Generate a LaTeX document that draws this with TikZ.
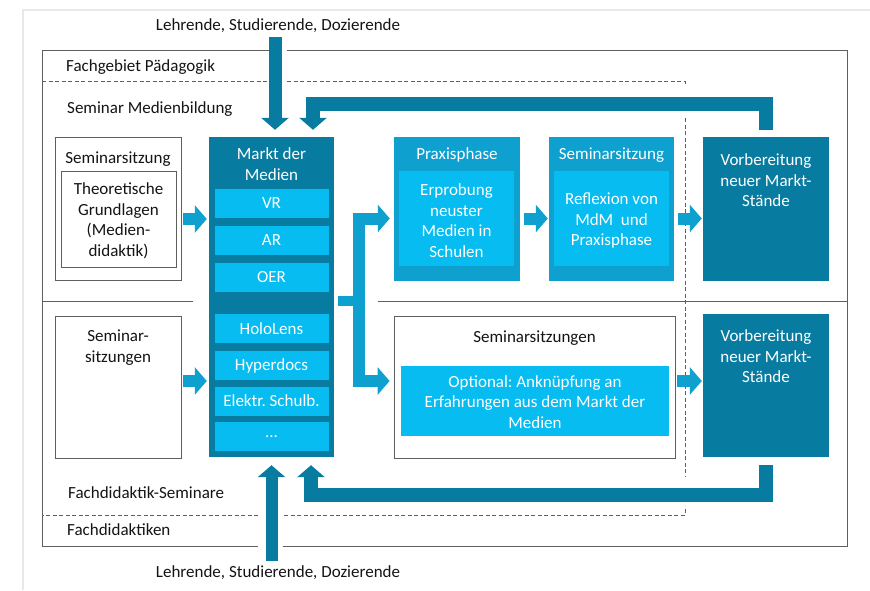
\documentclass[tikz,border=0pt]{standalone}
\usepackage{fontspec}
\setmainfont{Carlito}
\usepackage{tikz}
\usetikzlibrary{arrows.meta,calc,positioning}
\frenchspacing
\definecolor{deepTeal}{RGB}{8,123,160}
\definecolor{midBlue}{RGB}{14,160,206}
\definecolor{lightBlue}{RGB}{6,188,240}
\definecolor{frameGray}{RGB}{95,95,95}
\definecolor{textGray}{RGB}{20,20,20}

\begin{document}
\begin{tikzpicture}[
  x=1pt, y=-1pt,
  font=\fontsize{17}{20.5}\selectfont,
  frame/.style={draw=frameGray, line width=0.9pt},
  divider/.style={draw=frameGray, line width=0.8pt, dash pattern=on 4pt off 2.5pt},
  whitebox/.style={draw=frameGray, line width=0.8pt, fill=white, inner sep=0pt},
  marktbox/.style={fill=deepTeal, inner sep=0pt},
  phasebox/.style={fill=midBlue, inner sep=0pt},
  innerbox/.style={fill=lightBlue, text=white, inner sep=0pt, align=center},
  item/.style={innerbox, minimum width=114pt, minimum height=29pt},
  title/.style={align=center, text=textGray, inner sep=0pt},
  wtitle/.style={align=center, text=white, inner sep=0pt},
  blockarrow/.style={draw=midBlue, line width=12pt, line join=miter, -{Triangle[width=27pt,length=12pt]}},
  feedback/.style={draw=deepTeal, line width=14pt, line join=miter, -{Triangle[width=27pt,length=12pt]}}
]
  \useasboundingbox (0,0) rectangle (870,590);
  \draw[gray!18, line width=2.5pt] (23,590) -- (23,10) -- (870,10);

  % areas
  \draw[frame] (272,50) -- (42,50) -- (42,546) -- (258,546);
  \draw[frame] (287,50) -- (847,50) -- (847,546) -- (283,546);
  \draw[frame] (42,301) -- (193,301);
  \draw[frame] (378,301) -- (847,301);
  \draw[divider] (42,81) -- (272,81);
  \draw[divider] (287,81) -- (685,81) -- (685,84);
  \draw[divider] (685,118) -- (685,477);
  \draw[divider] (685,509) -- (685,515) -- (282,515);
  \draw[divider] (258,515) -- (42,515);

  \node[title, anchor=west] (paed) at (66,67) {Fachgebiet Pädagogik};
  \node[title, anchor=west] (medbild) at (67,109) {Seminar Medienbildung};
  \node[title, anchor=west] (fdsem) at (68,493) {Fachdidaktik-Seminare};
  \node[title, anchor=west] (fd) at (67,530) {Fachdidaktiken};
  \node[title] (audienceTop) at (278,26) {Lehrende, Studierende, Dozierende};
  \node[title] (audienceBot) at (278,573) {Lehrende, Studierende, Dozierende};

  % Markt der Medien
  \node[marktbox, minimum width=125pt, minimum height=320pt] (markt) at (271.5,297) {};
  \node[wtitle, below=11pt of markt.north] {Markt der\\Medien};
  \node[item] (vr) at (271.5,203.5) {VR};
  \node[item, below=7.5pt of vr] (ar) {AR};
  \node[item, below=7.5pt of ar] (oer) {OER};
  \node[item, below=22pt of oer] (holo) {HoloLens};
  \node[item, below=7.5pt of holo] (hyper) {Hyperdocs};
  \node[item, below=6pt of hyper] (schulb) {Elektr. Schulb.};
  \node[item, below=6pt of schulb] (more) {...};

  % upper row
  \node[whitebox, minimum width=126pt, minimum height=143pt] (sem1) at (118,208.5) {};
  \node[title, below=15pt of sem1.north] {Seminarsitzung};
  \node[whitebox, minimum width=115pt, minimum height=96pt] (theo) at (118.5,219) {};
  \node[title, yshift=-2pt] at (theo) {Theoretische\\Grundlagen\\(Medien-\\didaktik)};
  \node[phasebox, minimum width=126pt, minimum height=144pt] (praxis) at (457,209) {};
  \node[wtitle, below=11pt of praxis.north] {Praxisphase};
  \node[innerbox, minimum width=115pt, minimum height=95pt] (praxin) at (456.5,218.5) {};
  \node[wtitle, yshift=-2pt] at (praxin) {Erprobung\\neuster\\Medien in\\Schulen};
  \node[phasebox, minimum width=125pt, minimum height=144pt] (seminar) at (611.5,209) {};
  \node[wtitle, below=11pt of seminar.north] {Seminarsitzung};
  \node[innerbox, minimum width=115pt, minimum height=95pt] (semin) at (611.5,218.5) {};
  \node[wtitle, yshift=-2.5pt] at (semin) {Reflexion von\\MdM~~und\\Praxisphase};
  \node[marktbox, minimum width=126pt, minimum height=144pt] (vorb1) at (766,209) {};
  \node[wtitle, below=17pt of vorb1.north] {Vorbereitung\\neuer Markt-\\Stände};

  % lower row
  \node[whitebox, minimum width=126pt, minimum height=142pt] (sem2) at (118,387) {};
  \node[title, below=14pt of sem2.north] {Seminar-\\sitzungen};
  \node[whitebox, minimum width=281pt, minimum height=142pt] (semb) at (534.5,387) {};
  \node[title, below=15pt of semb.north] {Seminarsitzungen};
  \node[innerbox, minimum width=268pt, minimum height=70pt] (sembin) at (535,401) {};
  \node[wtitle, yshift=-1pt] at (sembin) {Optional: Anknüpfung an\\Erfahrungen aus dem Markt der\\Medien};
  \node[marktbox, minimum width=126pt, minimum height=143pt] (vorb2) at (766,385.5) {};
  \node[wtitle, below=16pt of vorb2.north] {Vorbereitung\\neuer Markt-\\Stände};

  \coordinate (split) at (358.5,300.5);
  \coordinate (lowrow) at (0,381);
  \coordinate (backTop) at (313,103.5);
  \coordinate (backBot) at (311,494.5);

  % block arrows
  \draw[blockarrow, shorten <=2pt, shorten >=2pt] (sem1.east |- theo.east) -- (markt.west |- theo.east);
  \draw[blockarrow, shorten <=2pt, shorten >=2pt] (sem2.east |- lowrow) -- (markt.west |- lowrow);
  \draw[blockarrow, -, line width=10pt, shorten <=4pt] (markt.east |- split) -- (split);
  \draw[blockarrow, shorten >=4pt] (split) |- (praxis.west |- praxin.west);
  \draw[blockarrow, shorten >=4pt] (split) |- (semb.west |- lowrow);
  \draw[blockarrow, shorten <=4pt, shorten >=1pt] (praxis.east |- praxin.east) -- (seminar.west |- praxin.east);
  \draw[blockarrow, shorten <=4pt, shorten >=1pt] (seminar.east |- semin.east) -- (vorb1.west |- semin.east);
  \draw[blockarrow, shorten <=2pt, shorten >=1pt] (semb.east |- lowrow) -- (vorb2.west |- lowrow);

  % feedback and entry
  \draw[feedback] ([yshift=7pt]vorb1.north) |- (backTop) -- ([yshift=7pt]markt.north -| backTop);
  \draw[feedback] ([yshift=-8pt]vorb2.south) |- (backBot) -- ([yshift=-8pt]markt.south -| backBot);
  \draw[feedback, line width=13pt, shorten <=4pt] ([xshift=3.5pt]markt.north |- audienceTop.south) -- ([xshift=3.5pt,yshift=7pt]markt.north);
  \draw[feedback, line width=12pt, shorten <=5pt] (markt.south |- audienceBot.north) -- ([yshift=-8pt]markt.south);
\end{tikzpicture}
\end{document}
